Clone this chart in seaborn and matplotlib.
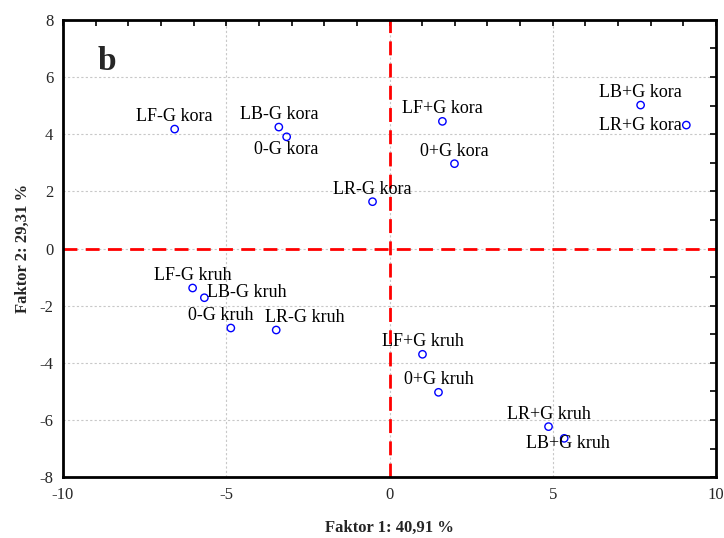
import matplotlib
matplotlib.use("Agg")
import matplotlib.pyplot as plt
import seaborn as sns
import pandas as pd
from matplotlib.ticker import MultipleLocator

# sample names and PCA scores (factor 1, factor 2)
labels = ["LF-G kora", "LB-G kora", "0-G kora", "LR-G kora",
          "LF+G kora", "0+G kora", "LB+G kora", "LR+G kora",
          "LF-G kruh", "LB-G kruh", "0-G kruh", "LR-G kruh",
          "LF+G kruh", "0+G kruh", "LR+G kruh", "LB+G kruh"]
faktor1 = [-6.58, -3.39, -3.15, -0.52, 1.62, 1.99, 7.69, 9.09,
           -6.03, -5.67, -4.86, -3.47, 1.01, 1.50, 4.87, 5.35]
faktor2 = [4.18, 4.25, 3.91, 1.64, 4.45, 2.97, 5.02, 4.32,
           -1.38, -1.72, -2.78, -2.85, -3.70, -5.03, -6.23, -6.64]

# label offsets in points and alignment
offsets = {
    "0-G kora": ((0, -9), "center"),
    "LR+G kora": ((-3, 0), "right"),
    "LB-G kruh": ((2, 4), "left"),
    "0-G kruh": ((-7, 9), "center"),
    "LR-G kruh": ((-8, 9), "left"),
    "LB+G kruh": ((3, -4), "center"),
}

df = pd.DataFrame({"label": labels, "f1": faktor1, "f2": faktor2})

sns.set_style("white")
plt.rcParams["font.family"] = ["Liberation Serif", "DejaVu Serif"]
plt.rcParams["axes.unicode_minus"] = False

fig = plt.figure(figsize=(7.24, 5.38), dpi=100)
ax = fig.add_axes([0.087, 0.113, 0.902, 0.85])

ax.axvline(0, color="red", ls=(0, (5, 3)), lw=2, zorder=1)
ax.axhline(0, color="red", ls=(0, (5, 3)), lw=2, zorder=1)

sns.scatterplot(data=df, x="f1", y="f2", ax=ax, marker="o", s=28,
                facecolor="none", edgecolor="blue", linewidth=1, zorder=3)

for lab, x, y in zip(labels, faktor1, faktor2):
    (dx, dy), ha = offsets.get(lab, ((0, 9), "center"))
    ax.annotate(lab, (x, y), xytext=(dx, dy), textcoords="offset points",
                ha=ha, va="center", fontsize=13, color="black", zorder=4)

ax.set_xlim(-10, 10)
ax.set_ylim(-8, 8)
ax.xaxis.set_major_locator(MultipleLocator(5))
ax.yaxis.set_major_locator(MultipleLocator(2))
ax.xaxis.set_minor_locator(MultipleLocator(1))
ax.yaxis.set_minor_locator(MultipleLocator(1))
ax.tick_params(which="both", direction="in", top=True, right=True,
               length=4, width=1.2, color="black")
ax.tick_params(which="major", labelsize=12, pad=7)
ax.grid(True, which="major", color="#c8c8c8", ls=(0, (2, 2)), lw=0.8)
ax.set_axisbelow(True)
for sp in ax.spines.values():
    sp.set_color("black")
    sp.set_linewidth(2)

ax.set_xlabel("Faktor 1: 40,91 %", fontsize=12, fontweight="bold", labelpad=12)
ax.set_ylabel("Faktor 2: 29,31 %", fontsize=12, fontweight="bold", labelpad=6)

ax.text(0.067, 0.91, "b", transform=ax.transAxes, fontsize=24,
        fontweight="bold", ha="center", va="center")

fig.savefig("out.png", dpi=100)
